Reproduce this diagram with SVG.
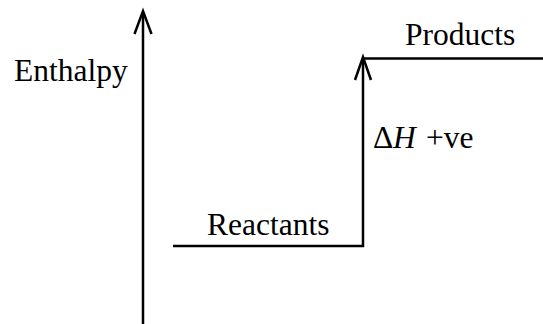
<svg xmlns="http://www.w3.org/2000/svg" width="543" height="324" viewBox="0 0 543 324">
<style>
.ln{stroke:#000;stroke-width:2.5;fill:none;stroke-linecap:butt}
.ah{stroke:#000;stroke-width:2.5;fill:none;stroke-linejoin:miter}
.t{font-family:"Liberation Serif","Times New Roman",serif;font-size:31.5px;fill:#000}
</style>
<rect width="543" height="324" fill="#fff"/>
<g id="axis">
<line class="ln" x1="143" y1="324" x2="143" y2="13"/>
<polyline class="ah" points="134.5,34 143,11 151.5,34"/>
<text class="t" x="14" y="81">Enthalpy</text>
</g>
<g id="reactants">
<line class="ln" x1="173" y1="246" x2="364" y2="246"/>
<text class="t" x="207" y="235">Reactants</text>
</g>
<g id="products">
<line class="ln" x1="362" y1="58.5" x2="543" y2="58.5"/>
<text class="t" x="405" y="45">Products</text>
</g>
<g id="connectors">
<line class="ln" x1="363" y1="247" x2="363" y2="60"/>
<polyline class="ah" points="355,80 363,57 371,80"/>
<text class="t" x="373" y="148">Δ<tspan x="393" font-style="italic">H</tspan><tspan x="426">+ve</tspan></text>
</g>
</svg>
